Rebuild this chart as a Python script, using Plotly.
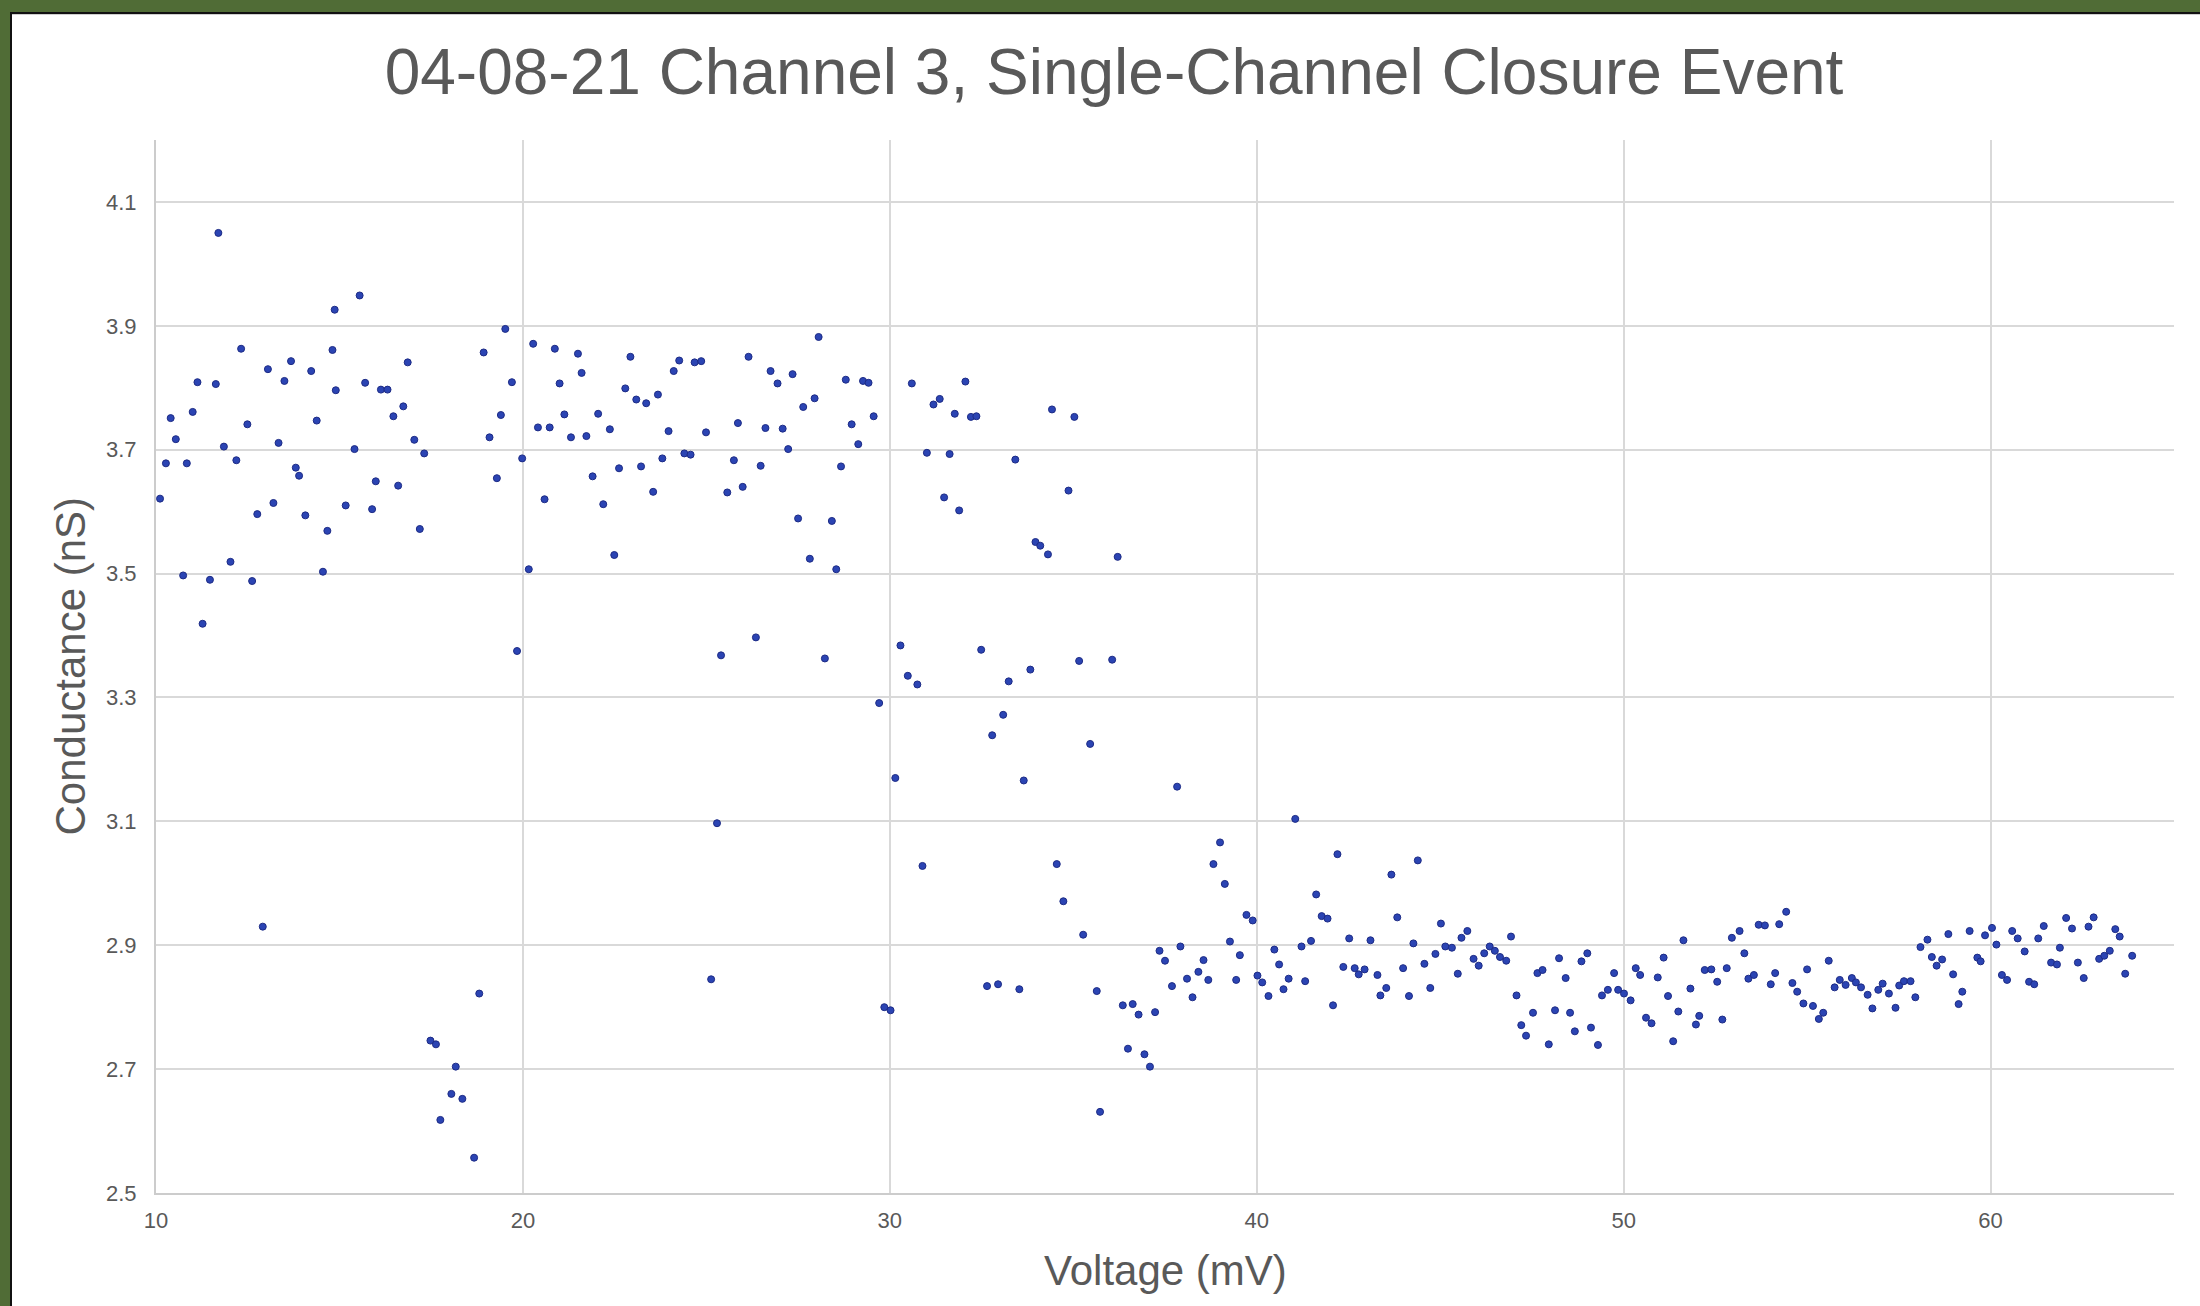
import plotly.graph_objects as go

# ---- data ----
voltage_mV = [
    10.11, 10.27, 10.40, 10.54, 10.74, 10.84, 11.00, 11.13, 11.27, 11.47,
    11.63, 11.70, 11.85, 12.03, 12.19, 12.32, 12.49, 12.62, 12.76, 12.91,
    13.05, 13.20, 13.34, 13.50, 13.68, 13.81, 13.90, 14.07, 14.23, 14.38,
    14.55, 14.67, 14.81, 14.87, 14.90, 15.17, 15.41, 15.55, 15.70, 15.89,
    15.99, 16.13, 16.31, 16.47, 16.60, 16.74, 16.86, 17.04, 17.19, 17.31,
    17.48, 17.63, 17.75, 18.05, 18.17, 18.35, 18.67, 18.81, 18.93, 19.09,
    19.29, 19.40, 19.52, 19.70, 19.84, 19.98, 20.16, 20.28, 20.41, 20.59,
    20.73, 20.87, 21.00, 21.13, 21.31, 21.50, 21.60, 21.73, 21.90, 22.05,
    22.19, 22.37, 22.49, 22.62, 22.79, 22.93, 23.09, 23.22, 23.36, 23.55,
    23.68, 23.80, 23.97, 24.11, 24.26, 24.40, 24.57, 24.68, 24.86, 24.99,
    25.13, 25.29, 25.40, 25.57, 25.75, 25.86, 25.99, 26.15, 26.35, 26.48,
    26.61, 26.75, 26.94, 27.08, 27.23, 27.35, 27.50, 27.64, 27.82, 27.95,
    28.06, 28.23, 28.42, 28.54, 28.67, 28.80, 28.96, 29.14, 29.27, 29.42,
    29.56, 29.71, 29.85, 30.02, 30.15, 30.29, 30.49, 30.60, 30.75, 30.89,
    31.01, 31.19, 31.36, 31.48, 31.63, 31.77, 31.89, 32.06, 32.21, 32.36,
    32.49, 32.65, 32.79, 32.95, 33.09, 33.24, 33.42, 33.53, 33.65, 33.83,
    33.97, 34.10, 34.31, 34.42, 34.55, 34.73, 34.87, 35.03, 35.16, 35.27,
    35.46, 35.64, 35.73, 36.06, 36.21, 36.35, 36.49, 36.62, 36.78, 36.94,
    37.09, 37.23, 37.35, 37.50, 37.69, 37.83, 37.92, 38.10, 38.25, 38.41,
    38.55, 38.68, 38.82, 39.00, 39.13, 39.27, 39.44, 39.54, 39.72, 39.89,
    40.02, 40.15, 40.32, 40.48, 40.61, 40.73, 40.87, 41.05, 41.22, 41.32,
    41.48, 41.62, 41.77, 41.93, 42.08, 42.20, 42.36, 42.52, 42.67, 42.78,
    42.94, 43.10, 43.29, 43.37, 43.53, 43.67, 43.83, 43.99, 44.15, 44.27,
    44.39, 44.57, 44.73, 44.87, 45.02, 45.14, 45.32, 45.48, 45.58, 45.74,
    45.91, 46.05, 46.20, 46.35, 46.49, 46.63, 46.80, 46.93, 47.08, 47.21,
    47.34, 47.53, 47.65, 47.79, 47.96, 48.13, 48.24, 48.42, 48.54, 48.67,
    48.85, 49.01, 49.11, 49.30, 49.41, 49.57, 49.74, 49.85, 50.01, 50.19,
    50.33, 50.45, 50.61, 50.76, 50.93, 51.09, 51.21, 51.35, 51.49, 51.63,
    51.82, 51.97, 52.06, 52.21, 52.39, 52.55, 52.69, 52.81, 52.95, 53.16,
    53.29, 53.40, 53.55, 53.68, 53.85, 54.01, 54.13, 54.24, 54.43, 54.60,
    54.73, 54.90, 55.00, 55.16, 55.32, 55.44, 55.59, 55.75, 55.89, 56.05,
    56.22, 56.33, 56.47, 56.65, 56.78, 56.94, 57.06, 57.23, 57.41, 57.51,
    57.64, 57.82, 57.95, 58.09, 58.28, 58.40, 58.53, 58.68, 58.85, 58.98,
    59.13, 59.23, 59.43, 59.64, 59.73, 59.85, 60.04, 60.16, 60.31, 60.45,
    60.59, 60.74, 60.93, 61.05, 61.19, 61.30, 61.45, 61.65, 61.81, 61.89,
    62.06, 62.22, 62.38, 62.54, 62.67, 62.81, 62.96, 63.10, 63.25, 63.40,
    63.52, 63.67, 63.86,
]

conductance_nS = [
    3.621, 3.678, 3.751, 3.717, 3.497, 3.678, 3.761, 3.809, 3.419, 3.490,
    3.806, 4.050, 3.705, 3.519, 3.683, 3.863, 3.741, 3.488, 3.596, 2.930,
    3.830, 3.614, 3.711, 3.811, 3.843, 3.671, 3.658, 3.594, 3.827, 3.747,
    3.503, 3.569, 3.861, 3.926, 3.796, 3.610, 3.701, 3.949, 3.808, 3.604,
    3.649, 3.797, 3.797, 3.754, 3.642, 3.770, 3.841, 3.716, 3.572, 3.694,
    2.746, 2.740, 2.618, 2.660, 2.704, 2.652, 2.557, 2.822, 3.857, 3.720,
    3.654, 3.756, 3.895, 3.809, 3.375, 3.686, 3.507, 3.871, 3.736, 3.620,
    3.736, 3.863, 3.807, 3.757, 3.720, 3.855, 3.824, 3.722, 3.657, 3.758,
    3.612, 3.733, 3.530, 3.670, 3.799, 3.850, 3.781, 3.673, 3.775, 3.632,
    3.789, 3.686, 3.730, 3.827, 3.844, 3.694, 3.692, 3.841, 3.843, 3.728,
    2.845, 3.097, 3.368, 3.631, 3.683, 3.743, 3.640, 3.850, 3.397, 3.674,
    3.735, 3.827, 3.807, 3.734, 3.701, 3.822, 3.589, 3.769, 3.524, 3.783,
    3.882, 3.363, 3.585, 3.507, 3.673, 3.813, 3.741, 3.709, 3.811, 3.808,
    3.754, 3.291, 2.800, 2.795, 3.170, 3.384, 3.335, 3.807, 3.321, 3.028,
    3.695, 3.773, 3.782, 3.623, 3.693, 3.758, 3.602, 3.810, 3.753, 3.754,
    3.377, 2.834, 3.239, 2.837, 3.272, 3.326, 3.684, 2.829, 3.166, 3.345,
    3.551, 3.545, 3.531, 3.765, 3.031, 2.971, 3.634, 3.753, 3.359, 2.917,
    3.225, 2.826, 2.631, 3.361, 3.527, 2.803, 2.733, 2.805, 2.788, 2.724,
    2.704, 2.792, 2.891, 2.875, 2.834, 3.156, 2.898, 2.846, 2.816, 2.857,
    2.876, 2.844, 3.031, 3.066, 2.999, 2.906, 2.844, 2.884, 2.949, 2.940,
    2.851, 2.840, 2.818, 2.893, 2.869, 2.829, 2.846, 3.104, 2.898, 2.842,
    2.907, 2.982, 2.947, 2.943, 2.803, 3.047, 2.865, 2.911, 2.863, 2.853,
    2.861, 2.908, 2.852, 2.819, 2.831, 3.014, 2.945, 2.863, 2.818, 2.903,
    3.037, 2.870, 2.831, 2.886, 2.935, 2.898, 2.896, 2.854, 2.912, 2.923,
    2.878, 2.867, 2.887, 2.898, 2.891, 2.881, 2.875, 2.914, 2.819, 2.771,
    2.754, 2.791, 2.855, 2.860, 2.740, 2.795, 2.879, 2.847, 2.791, 2.761,
    2.874, 2.887, 2.767, 2.739, 2.819, 2.828, 2.855, 2.828, 2.822, 2.811,
    2.863, 2.852, 2.783, 2.774, 2.848, 2.880, 2.818, 2.745, 2.793, 2.908,
    2.830, 2.772, 2.786, 2.860, 2.861, 2.841, 2.780, 2.863, 2.912, 2.923,
    2.887, 2.846, 2.852, 2.933, 2.932, 2.837, 2.855, 2.934, 2.954, 2.839,
    2.825, 2.806, 2.861, 2.802, 2.781, 2.791, 2.875, 2.832, 2.844, 2.836,
    2.847, 2.840, 2.832, 2.820, 2.798, 2.828, 2.838, 2.822, 2.799, 2.835,
    2.842, 2.842, 2.816, 2.897, 2.909, 2.881, 2.867, 2.877, 2.918, 2.853,
    2.805, 2.825, 2.923, 2.880, 2.874, 2.916, 2.928, 2.901, 2.852, 2.844,
    2.923, 2.911, 2.890, 2.841, 2.837, 2.911, 2.931, 2.872, 2.869, 2.896,
    2.944, 2.927, 2.872, 2.847, 2.930, 2.945, 2.878, 2.883, 2.891, 2.926,
    2.914, 2.854, 2.883,
]

TITLE = "04-08-21 Channel 3, Single-Channel Closure Event"
X_TITLE = "Voltage (mV)"
Y_TITLE = "Conductance (nS)"

# ---- layout geometry (pixels) ----
W, H = 2200, 1306
ML, MR, MT, MB = 156, 26, 140, 113
PW = W - ML - MR
PH = H - MT - MB

def px_x(px):
    return (px - ML) / PW

def px_y(py):
    return (H - MB - py) / PH

TXT = "#595959"
FONT = "Liberation Sans, Arial, Helvetica, sans-serif"
GREEN = "#506c36"

fig = go.Figure()
fig.add_trace(go.Scatter(
    x=voltage_mV, y=conductance_nS, mode="markers",
    marker=dict(size=7, color="#2b44b3", line=dict(color="#1d2b85", width=1)),
    hoverinfo="x+y", showlegend=False,
))

shapes = [
    # green frame strips (top and left) with thin dark inner edge
    dict(type="rect", xref="paper", yref="paper", x0=px_x(-20), x1=px_x(W + 20),
         y0=px_y(12), y1=px_y(-20), fillcolor=GREEN, line=dict(width=0), layer="above"),
    dict(type="rect", xref="paper", yref="paper", x0=px_x(-20), x1=px_x(W + 20),
         y0=px_y(14), y1=px_y(12), fillcolor="#111111", line=dict(width=0), layer="above"),
    dict(type="rect", xref="paper", yref="paper", x0=px_x(12), x1=px_x(W + 20),
         y0=px_y(15), y1=px_y(14), fillcolor="#cfcfcf", line=dict(width=0), layer="above"),
    dict(type="rect", xref="paper", yref="paper", x0=px_x(-20), x1=px_x(10),
         y0=px_y(H + 20), y1=px_y(-20), fillcolor=GREEN, line=dict(width=0), layer="above"),
    dict(type="rect", xref="paper", yref="paper", x0=px_x(10), x1=px_x(12),
         y0=px_y(H + 20), y1=px_y(12), fillcolor="#111111", line=dict(width=0), layer="above"),
]

annotations = [
    dict(text=X_TITLE, xref="paper", yref="paper", x=0.5, y=0, xanchor="center",
         yanchor="middle", yshift=-77, showarrow=False,
         font=dict(size=42, color=TXT, family=FONT)),
    dict(text=Y_TITLE, xref="paper", yref="paper", x=0, y=0.5, xanchor="center",
         yanchor="middle", xshift=-86, textangle=-90, showarrow=False,
         font=dict(size=42, color=TXT, family=FONT)),
]

fig.update_layout(
    width=W, height=H,
    margin=dict(l=ML, r=MR, t=MT, b=MB, pad=0),
    paper_bgcolor="white", plot_bgcolor="white",
    font=dict(family=FONT, color=TXT),
    title=dict(text=TITLE, x=1114 / W, xanchor="center", y=1 - 72 / H,
               yanchor="middle", font=dict(size=64, color=TXT, family=FONT)),
    shapes=shapes, annotations=annotations,
    xaxis=dict(range=[10, 65], tick0=10, dtick=10, showgrid=True,
               gridcolor="#d9d9d9", gridwidth=1.5, zeroline=False,
               showline=True, linecolor="#cccccc", linewidth=2,
               ticks="", tickfont=dict(size=22, color=TXT, family=FONT),
               ticklabelstandoff=7),
    yaxis=dict(range=[2.5, 4.2], tick0=2.5, dtick=0.2, showgrid=True,
               gridcolor="#d9d9d9", gridwidth=1.5, zeroline=False,
               showline=True, linecolor="#cccccc", linewidth=2,
               ticks="", tickformat=".1f",
               tickfont=dict(size=22, color=TXT, family=FONT),
               ticklabelstandoff=13),
)

fig.write_html(
    "out.html",
    config={"displayModeBar": False},
    post_script="document.body.style.margin='0px';document.body.style.overflow='hidden';",
)
